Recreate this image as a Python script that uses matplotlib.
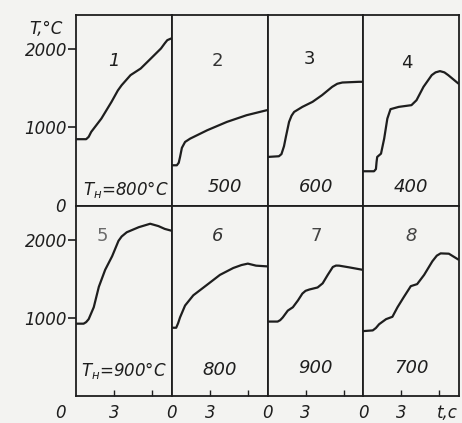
import matplotlib
matplotlib.use("Agg")
import matplotlib.pyplot as plt

# ---- data ----
t1 = [0, 0.8, 1.0, 1.2, 2.0, 2.8, 3.3, 3.6, 4.3, 5.1, 5.9, 6.7, 7.0, 7.2, 7.5]
T1 = [850, 850, 880, 943, 1112, 1325, 1470, 1537, 1665, 1749, 1876, 2004, 2070, 2110, 2131]
t2 = [0, 0.4, 0.55, 0.65, 0.8, 1.05, 1.45, 2.8, 4.35, 5.9, 7.5]
T2 = [518, 518, 550, 620, 740, 815, 857, 964, 1070, 1155, 1219]
t3 = [0, 0.9, 1.1, 1.3, 1.45, 1.7, 1.9, 2.1, 2.75, 3.55, 4.3, 5.1, 5.5, 5.9, 7.2, 7.5]
T3 = [624, 633, 660, 760, 880, 1070, 1150, 1197, 1261, 1325, 1410, 1516, 1555, 1571, 1580, 1580]
t4 = [0, 0.85, 1.0, 1.05, 1.1, 1.4, 1.65, 1.9, 2.15, 2.8, 3.8, 4.2, 4.75, 5.4, 5.7, 6.05, 6.4, 6.7, 7.5]
T4 = [442, 442, 470, 560, 624, 666, 857, 1112, 1232, 1261, 1283, 1346, 1516, 1665, 1700, 1716, 1700, 1665, 1558]
t5 = [0, 0.6, 0.8, 1.0, 1.4, 1.8, 2.3, 2.85, 3.35, 3.6, 4.0, 4.95, 5.85, 6.5, 7.0, 7.5]
T5 = [925, 925, 945, 983, 1135, 1396, 1614, 1788, 1984, 2040, 2094, 2159, 2203, 2173, 2137, 2115]
t6 = [0, 0.35, 0.5, 0.65, 1.05, 1.7, 2.75, 3.8, 4.85, 5.5, 6.0, 6.65, 7.5]
T6 = [873, 873, 930, 1004, 1157, 1288, 1418, 1549, 1637, 1675, 1693, 1667, 1658]
t7 = [0, 0.8, 1.0, 1.2, 1.6, 2.0, 2.4, 2.75, 3.0, 3.3, 3.95, 4.35, 4.75, 5.15, 5.4, 5.65, 6.45, 7.5]
T7 = [952, 952, 970, 1004, 1092, 1135, 1222, 1310, 1345, 1362, 1388, 1441, 1549, 1650, 1668, 1667, 1645, 1614]
t8 = [0, 0.75, 1.0, 1.25, 1.8, 2.3, 2.7, 3.2, 3.75, 4.25, 4.8, 5.45, 5.8, 6.1, 6.75, 7.5]
T8 = [830, 839, 870, 918, 983, 1013, 1135, 1266, 1405, 1431, 1549, 1723, 1795, 1824, 1820, 1745]

curve_t = [t1, t2, t3, t4, t5, t6, t7, t8]
curve_T = [T1, T2, T3, T4, T5, T6, T7, T8]
numbers = ["1", "2", "3", "4", "5", "6", "7", "8"]
start_temps = [r"$T_{\mathregular{н}}$=800°C", "500", "600", "400",
               r"$T_{\mathregular{н}}$=900°C", "800", "900", "700"]
yticks = [1000, 2000]
ytick_labels = ["1000", "2000"]
xticks = [3, 6]

# ---- layout ----
W, H = 462, 423
fig = plt.figure(figsize=(W / 100, H / 100), dpi=100)
bg = "#f3f3f1"
ink = "#1e1e1e"
fig.patch.set_facecolor(bg)

left_px, right_px = 76, 459
pw = (right_px - left_px) / 4
rows = [(15, 206), (206, 396)]

num_pos = [(0.40, 0.76), (0.48, 0.76), (0.44, 0.77), (0.46, 0.75),
           (0.27, 0.84), (0.48, 0.84), (0.51, 0.84), (0.50, 0.84)]
num_style = ["italic", "normal", "normal", "normal", "normal", "italic", "normal", "italic"]
num_color = [ink, "#333333", ink, ink, "#6a6a6a", "#333333", "#444444", "#444444"]
lab_x = [0.52, 0.55, 0.51, 0.50, 0.50, 0.50, 0.50, 0.50]
lab_y = [0.085, 0.10, 0.10, 0.10, 0.135, 0.135, 0.145, 0.145]
lab_fs = [12, 13, 13, 13, 12, 13, 13, 13]

for i in range(8):
    r, c = divmod(i, 4)
    top, bot = rows[r]
    ax = fig.add_axes([(left_px + c * pw) / W, 1 - bot / H, pw / W, (bot - top) / H])
    ax.set_facecolor(bg)
    ax.plot(curve_t[i], curve_T[i], color=ink, lw=1.6, solid_joinstyle="round",
            solid_capstyle="round")
    ax.set_xlim(0, 7.55)
    ax.set_ylim(0, 2430)
    for s in ax.spines.values():
        s.set_linewidth(1.3)
        s.set_color(ink)
    if c == 0:
        ax.set_yticks(yticks)
        ax.set_yticklabels(ytick_labels, fontsize=12, style="italic", color=ink)
        ax.tick_params(axis="y", direction="out", length=6, width=1.2, pad=0.5, colors=ink)
    else:
        ax.set_yticks([])
    if r == 1:
        ax.set_xticks(xticks)
        ax.set_xticklabels(["", ""])
        ax.tick_params(axis="x", direction="in", length=4, width=1.0, colors=ink)
    else:
        ax.set_xticks([])
    ax.text(num_pos[i][0], num_pos[i][1], numbers[i], transform=ax.transAxes,
            ha="center", va="center", fontsize=13, style=num_style[i], color=num_color[i])
    ax.text(lab_x[i], lab_y[i], start_temps[i], transform=ax.transAxes,
            ha="center", va="center", fontsize=lab_fs[i], style="italic", color=ink)

fig.text(46 / W, 1 - 29 / H, "T,°C", fontsize=12, style="italic", color=ink,
         ha="center", va="center")
fig.text(60 / W, 1 - 207 / H, "0", fontsize=12, style="italic", color=ink,
         ha="center", va="center")
xlab_y = 1 - 413 / H
for c in range(4):
    x0 = left_px + c * pw
    fig.text((60 if c == 0 else x0) / W, xlab_y, "0", fontsize=12, style="italic",
             color=ink, ha="center", va="center")
    fig.text((x0 + 3 / 7.55 * pw) / W, xlab_y, "3", fontsize=12, style="italic",
             color=ink, ha="center", va="center")
fig.text(447 / W, xlab_y, "t,c", fontsize=12, style="italic", color=ink,
         ha="center", va="center")

fig.savefig("out.png", dpi=100, facecolor=bg)
